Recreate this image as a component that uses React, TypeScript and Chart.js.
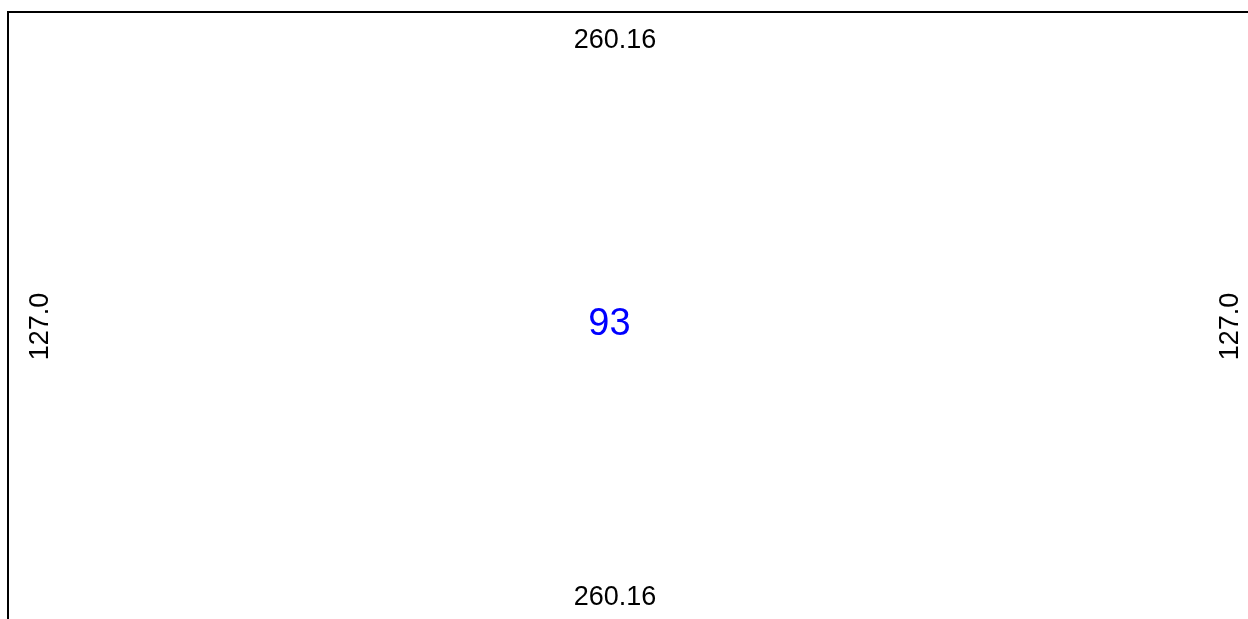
import React, { useEffect, useRef } from "react";
import { Chart, registerables } from "chart.js";

Chart.register(...registerables);

const rectWidth = 260.16;
const rectHeight = 127.0;
const centerValue = 93;
const widthLabel = rectWidth.toFixed(2);
const heightLabel = rectHeight.toFixed(1);

const PX_PER_UNIT = 4.815;
const FONT = '"Liberation Sans", Arial, sans-serif';

const labelsPlugin = {
  id: "dimLabels",
  afterDatasetsDraw(chart: any) {
    const ctx = chart.ctx;
    const xs = chart.scales.x;
    const ys = chart.scales.y;
    const left = xs.getPixelForValue(0);
    const top = ys.getPixelForValue(rectHeight);
    ctx.save();
    ctx.fillStyle = "#000";
    ctx.font = `27px ${FONT}`;
    ctx.textAlign = "center";
    ctx.textBaseline = "alphabetic";
    const cx = left + 607;
    ctx.fillText(widthLabel, cx, top + 36);
    ctx.fillText(widthLabel, cx, top + 593);
    // vertical labels
    const cy = top + 314.5;
    ctx.save();
    ctx.translate(left + 40, cy);
    ctx.rotate(-Math.PI / 2);
    ctx.fillText(heightLabel, 0, 0);
    ctx.restore();
    ctx.save();
    ctx.translate(left + 1230, cy);
    ctx.rotate(-Math.PI / 2);
    ctx.fillText(heightLabel, 0, 0);
    ctx.restore();
    // center value
    ctx.fillStyle = "#0000ff";
    ctx.font = `38px ${FONT}`;
    ctx.fillText(String(centerValue), left + 601.5, top + 323);
    ctx.restore();
  },
};

export default function App() {
  const ref = useRef<HTMLCanvasElement | null>(null);
  useEffect(() => {
    if (!ref.current) return;
    const W = 1248;
    const H = 619;
    const xMin = -8 / PX_PER_UNIT;
    const xMax = xMin + W / PX_PER_UNIT;
    const yMax = rectHeight + 12 / PX_PER_UNIT;
    const yMin = yMax - H / PX_PER_UNIT;
    const chart = new Chart(ref.current, {
      type: "line",
      data: {
        datasets: [
          {
            data: [
              { x: 0, y: 0 },
              { x: 0, y: rectHeight },
              { x: rectWidth, y: rectHeight },
              { x: rectWidth, y: 0 },
              { x: 0, y: 0 },
            ],
            borderColor: "#000",
            borderWidth: 2,
            pointRadius: 0,
            tension: 0,
            fill: false,
          },
        ],
      },
      options: {
        animation: false,
        responsive: false,
        maintainAspectRatio: false,
        layout: { padding: 0 },
        plugins: { legend: { display: false }, tooltip: { enabled: false } },
        scales: {
          x: { type: "linear", min: xMin, max: xMax, display: false },
          y: { type: "linear", min: yMin, max: yMax, display: false },
        },
      },
      plugins: [labelsPlugin],
    });
    return () => chart.destroy();
  }, []);
  return (
    <div style={{ position: "fixed", left: 0, top: 0, width: 1248, height: 619, background: "#fff" }}>
      <canvas ref={ref} width={1248} height={619} style={{ display: "block", width: 1248, height: 619 }} />
    </div>
  );
}
